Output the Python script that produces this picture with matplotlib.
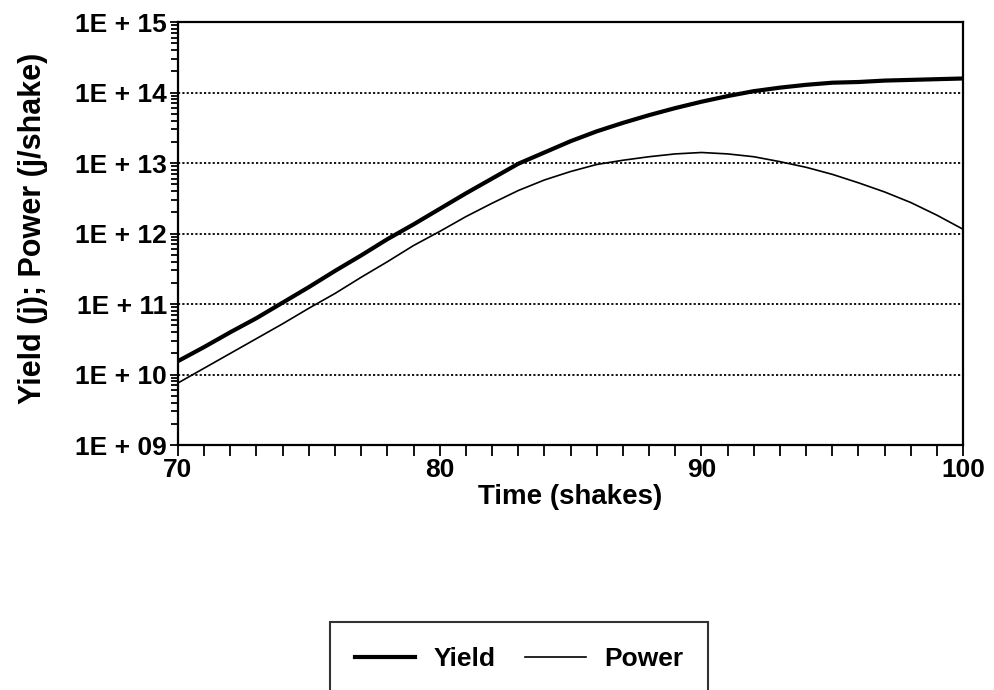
import numpy as np
import matplotlib
matplotlib.use("Agg")
import matplotlib.pyplot as plt
from matplotlib.ticker import FixedLocator, FuncFormatter, LogLocator, NullFormatter, MultipleLocator

# values, as log10 of the quantity
time_shakes = list(range(70, 101))
yield_log10 = [10.19, 10.39, 10.60, 10.80, 11.02, 11.24, 11.47, 11.69, 11.92, 12.13,
               12.35, 12.57, 12.78, 12.99, 13.15, 13.31, 13.45, 13.57, 13.68, 13.78,
               13.87, 13.95, 14.02, 14.07, 14.11, 14.14, 14.15, 14.17, 14.18, 14.19,
               14.20]
power_log10 = [9.88, 10.09, 10.30, 10.51, 10.72, 10.94, 11.15, 11.38, 11.60, 11.83,
               12.03, 12.24, 12.43, 12.61, 12.76, 12.88, 12.98, 13.04, 13.09, 13.13,
               13.15, 13.13, 13.09, 13.02, 12.94, 12.84, 12.72, 12.59, 12.44, 12.26,
               12.06]
decades = [9, 10, 11, 12, 13, 14, 15]
x_major = [70, 80, 90, 100]

plt.rcParams['font.family'] = ['Liberation Sans', 'DejaVu Sans']
plt.rcParams['font.weight'] = 'bold'
plt.rcParams['axes.labelweight'] = 'bold'

fig = plt.figure(figsize=(9.94, 6.90), dpi=100)
ax = fig.add_axes([0.179, 0.355, 0.790, 0.613])

t = np.array(time_shakes)
y_yield = 10.0 ** np.array(yield_log10)
y_power = 10.0 ** np.array(power_log10)

ax.plot(t, y_yield, color='black', lw=3.0, label='Yield')
ax.plot(t, y_power, color='black', lw=1.2, label='Power')

ax.set_yscale('log')
ax.set_xlim(70, 100)
ax.set_ylim(10.0 ** decades[0], 10.0 ** decades[-1])


def exp_label(v, pos):
    return "1E + %02d" % int(round(np.log10(v)))


ax.yaxis.set_major_locator(FixedLocator([10.0 ** d for d in decades]))
ax.yaxis.set_major_formatter(FuncFormatter(exp_label))
ax.yaxis.set_minor_locator(LogLocator(base=10, subs=np.arange(2, 10)))
ax.yaxis.set_minor_formatter(NullFormatter())

ax.xaxis.set_major_locator(FixedLocator(x_major))
ax.xaxis.set_minor_locator(MultipleLocator(1))

for d in decades[1:-1]:
    ax.axhline(10.0 ** d, color='black', lw=1.3, ls=(0, (1.2, 1.2)), zorder=1)

for s in ax.spines.values():
    s.set_linewidth(1.6)

ax.tick_params(axis='both', which='both', direction='out', width=1.3,
               labelsize=19, pad=2)
ax.tick_params(axis='x', which='major', length=8, pad=1)
ax.tick_params(axis='x', which='minor', length=8)
ax.tick_params(axis='y', which='major', length=6)
ax.tick_params(axis='y', which='minor', length=5)

ax.set_xlabel('Time (shakes)', fontsize=20)
ax.set_ylabel('Yield (j); Power (j/shake)', fontsize=22)
ax.xaxis.set_label_coords(0.499, -0.092)
ax.yaxis.set_label_coords(-0.166, 0.513)

leg = fig.legend(loc='upper center', bbox_to_anchor=(0.522, 1 - 622 / 690),
                 borderaxespad=0, ncol=2, fontsize=19, frameon=True, fancybox=False,
                 edgecolor='black', handlelength=2.3, columnspacing=1.1,
                 handletextpad=0.7, borderpad=0.95)
leg.get_frame().set_linewidth(1.5)

fig.savefig('out.png', dpi=100)
